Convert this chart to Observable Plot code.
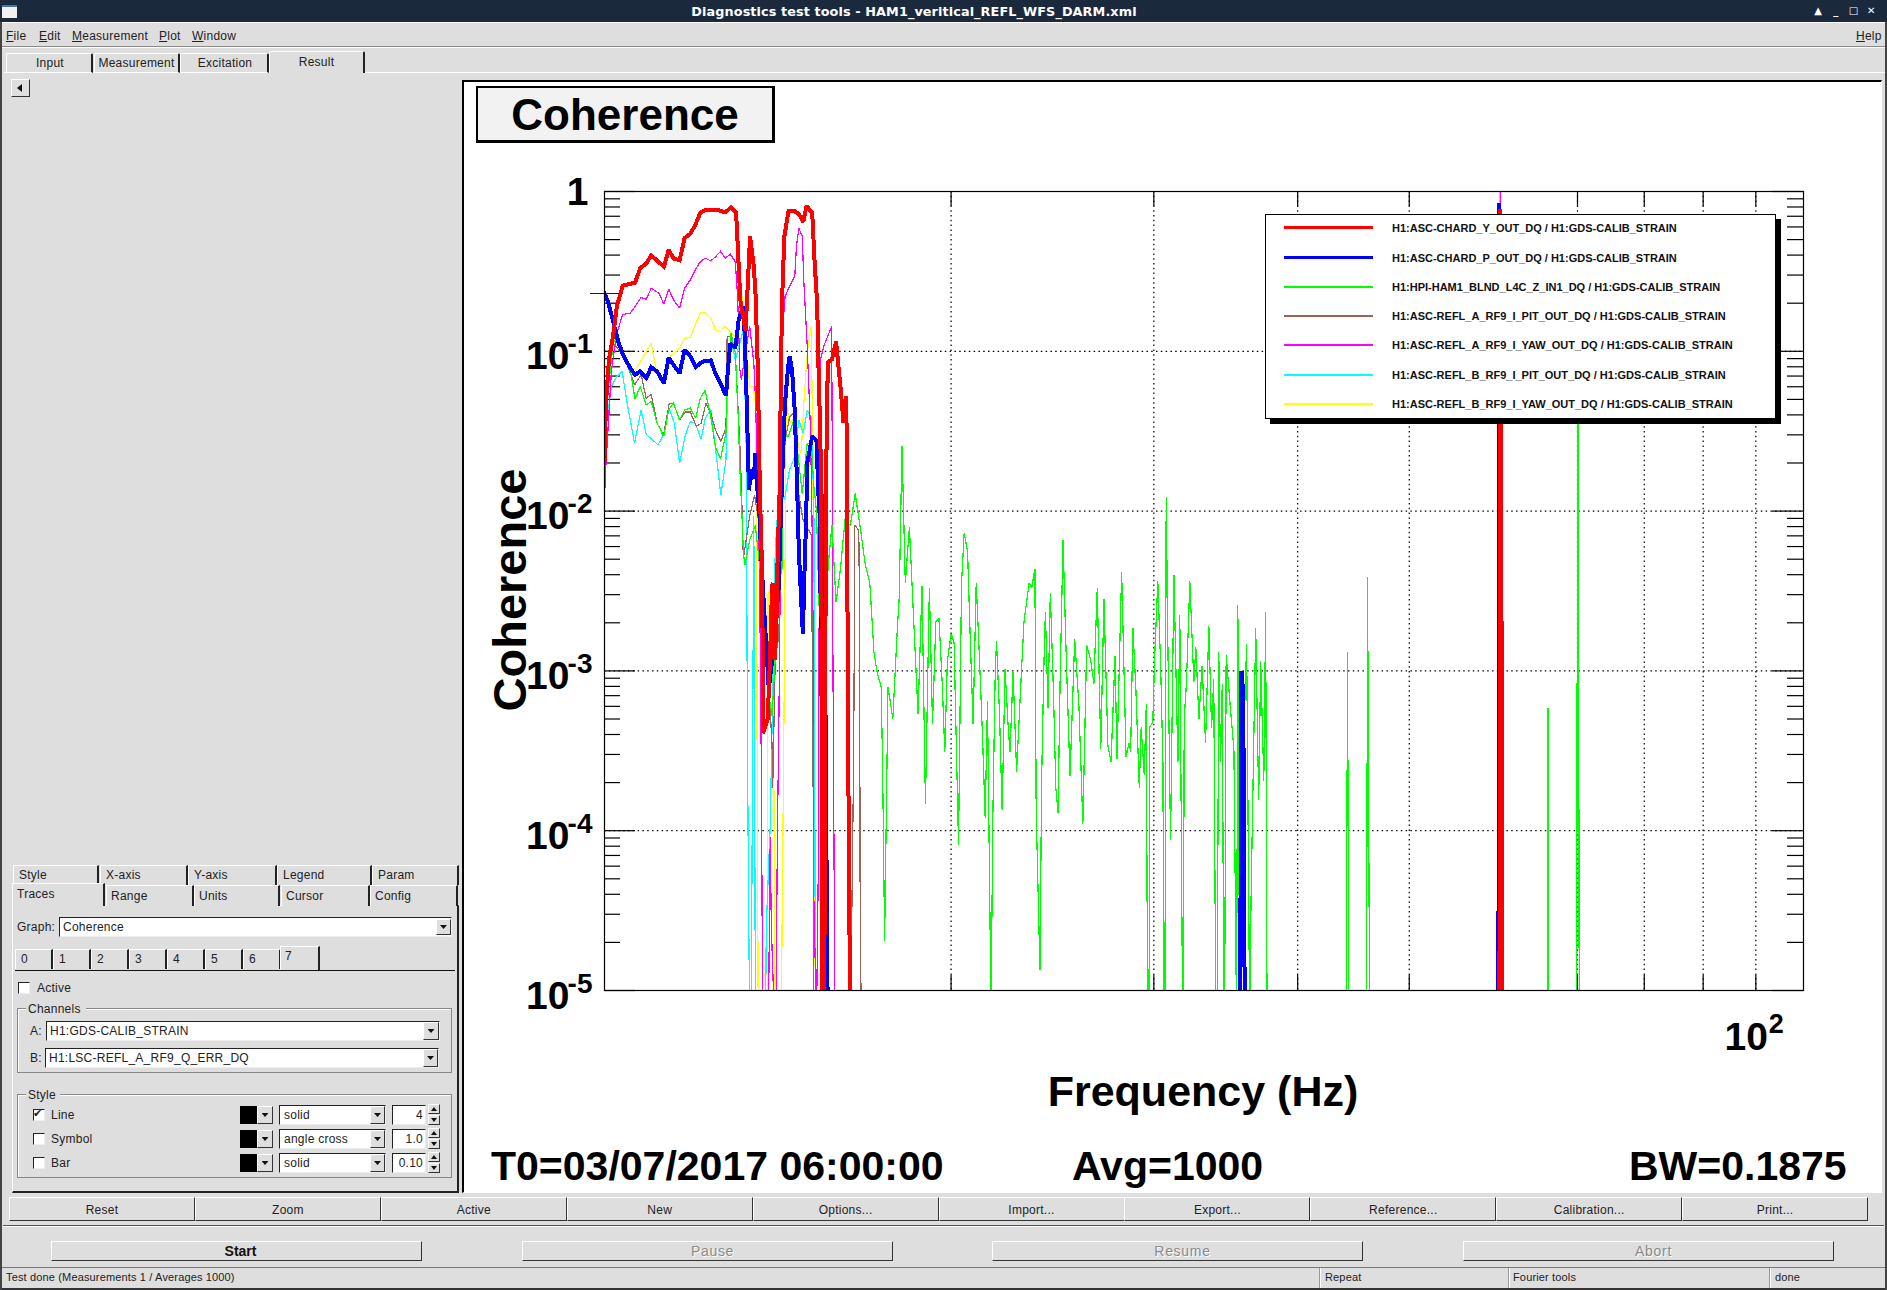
<!DOCTYPE html>
<html>
<head>
<meta charset="utf-8">
<script src="https://cdn.jsdelivr.net/npm/d3@7"></script>
<script src="https://cdn.jsdelivr.net/npm/@observablehq/plot@0.6"></script>
<style>
html,body{margin:0;padding:0;background:#dedede;width:1887px;height:1290px;overflow:hidden;font-family:"Liberation Sans",sans-serif;color:#111}
.a{position:absolute;box-sizing:border-box;white-space:pre}
svg text{font-family:"Liberation Sans",sans-serif}
</style>
</head>
<body>
<div id="gui"></div>
<script>
// All traces: [frequency in Hz, log10 of coherence]. Values below -5 run off the axis.
const redTrace=[[10,-1.70],[10.03,-1.32],[10.09,-1.05],[10.17,-.91],[10.25,-.72],[10.37,-.59],[10.63,-.57],[10.74,-.48],[10.87,-.45],[10.98,-.40],[11.26,-.47],[11.37,-.365],[11.48,-.42],[11.62,-.43],[11.74,-.29],[11.87,-.265],[11.99,-.21],[12.11,-.135],[12.23,-.115],[12.53,-.115],[12.73,-.13],[12.88,-.10],[13.01,-.13],[13.05,-.32],[13.09,-.53],[13.13,-.70],[13.26,-.87],[13.38,-.28],[13.48,-.47],[13.53,-.66],[13.59,-1.12],[13.63,-1.70],[13.66,-2],[13.71,-2.41],[13.73,-3.39],[13.86,-3.30],[13.93,-2.88],[13.98,-2.47],[14.01,-2.45],[14.05,-2.93],[14.1,-2.74],[14.14,-2.25],[14.19,-1.92],[14.21,-1.53],[14.26,-.70],[14.33,-.28],[14.45,-.12],[14.6,-.12],[14.75,-.14],[14.88,-.19],[14.98,-.09],[15.15,-.135],[15.22,-.43],[15.3,-.70],[15.35,-1.18],[15.4,-1.53],[15.43,-2.2],[15.45,-4.35],[15.47,-5.2],[15.52,-5.2],[15.55,-3.03],[15.58,-1.74],[15.63,-1.07],[15.76,-1.05],[15.89,-.94],[16.03,-1.22],[16.13,-1.45],[16.22,-1.28],[16.24,-1.89],[16.27,-3.13],[16.31,-4.38],[16.35,-5.2],[59.875,-5.5],[60,-.11],[60.125,-2.55],[60.25,-5.5]];
const blueTrace=[[10,-.636],[10.08,-.70],[10.18,-.82],[10.29,-.95],[10.39,-1.03],[10.53,-1.105],[10.63,-1.147],[10.74,-1.126],[10.87,-1.168],[10.98,-1.10],[11.11,-1.126],[11.26,-1.20],[11.37,-1.04],[11.48,-1.085],[11.62,-1.137],[11.74,-.99],[11.87,-1.03],[12,-1.10],[12.11,-1.075],[12.23,-1.06],[12.37,-1.057],[12.48,-1.137],[12.61,-1.20],[12.75,-1.278],[12.8,-1.115],[12.86,-.95],[12.99,-.98],[13.08,-.80],[13.2,-.72],[13.24,-.91],[13.29,-1.32],[13.35,-1.87],[13.41,-1.74],[13.48,-1.80],[13.52,-1.64],[13.57,-1.85],[13.63,-2.01],[13.69,-2.32],[13.77,-2.65],[13.84,-2.92],[13.89,-3.12],[13.93,-3.03],[14.01,-2.90],[14.17,-2.47],[14.23,-2.03],[14.29,-1.64],[14.35,-1.32],[14.43,-1.115],[14.48,-1.03],[14.55,-1.115],[14.63,-1.37],[14.7,-1.85],[14.75,-2.25],[14.82,-2.56],[14.87,-2.77],[14.92,-2.36],[14.97,-2.03],[15,-1.70],[15.15,-1.53],[15.28,-1.56],[15.35,-1.95],[15.38,-2.03],[15.45,-3.48],[15.5,-1.89],[15.55,-3.03],[15.6,-4.49],[15.63,-5.2],[35.625,-5.5],[35.75,-3.0],[35.875,-3.14],[36,-5.5],[59.75,-5.5],[59.875,-.07],[60,-5.5]];
const greenTrace=[[10,-1.49],[10.08,-1.22],[10.18,-.94],[10.29,-.918],[10.39,-1.03],[10.53,-1.116],[10.63,-1.30],[10.74,-1.22],[10.87,-1.335],[10.98,-1.314],[11.11,-1.45],[11.26,-1.53],[11.37,-1.366],[11.48,-1.324],[11.62,-1.43],[11.74,-1.366],[11.87,-1.355],[12,-1.418],[12.11,-1.293],[12.23,-1.245],[12.37,-1.41],[12.48,-1.595],[12.61,-1.675],[12.75,-1.51],[12.78,-1.22],[12.88,-.886],[12.99,-1.01],[13.07,-1.43],[13.11,-1.74],[13.16,-2],[13.2,-2.25],[13.24,-2.34],[13.37,-2.18],[13.52,-2.09],[13.66,-2.38],[13.8,-2.59],[13.89,-3.15],[13.98,-3.28],[14.07,-2.92],[14.17,-2.47],[14.26,-2.36],[14.31,-1.53],[14.45,-1.53],[14.6,-1.43],[14.72,-1.64],[14.85,-1.89],[15,-1.575],[15.12,-1.575],[15.2,-1.845],[15.28,-2],[15.38,-2.74],[15.45,-2.76],[15.5,-2.79],[15.65,-2.32],[15.76,-2.09],[15.89,-2.57],[16.03,-2.36],[16.18,-2.05],[16.35,-2.09],[16.51,-1.89],[16.69,-2.12],[16.85,-2.34],[17,-2.45],[17.14,-2.88],[17.25,-3.01],[17.39,-3.10],[17.44,-3.59],[17.51,-4.69],[17.63,-3.10],[17.8,-3.30],[17.96,-2.74],[18.03,-2.54],[18.13,-1.59],[18.25,-2.45],[18.4,-2.10],[18.72,-3.27],[18.87,-2.47],[19,-3.83],[19.15,-2.48],[19.27,-3.33],[19.4,-2.69],[19.52,-2.67],[19.65,-3.08],[19.75,-3.51],[19.85,-2.94],[20,-2.77],[20.12,-2.82],[20.3,-4.09],[20.42,-2.46],[20.53,-2.14],[20.67,-2.25],[20.78,-2.79],[20.9,-3.33],[21.03,-2.45],[21.16,-2.89],[21.3,-3.42],[21.41,-3.92],[21.51,-3.19],[21.63,-4.70],[21.66,-5.2],[21.74,-3.93],[21.84,-3.06],[21.9,-2.81],[22.03,-3.25],[22.15,-3.87],[22.28,-2.99],[22.42,-3.35],[22.5,-3.51],[22.64,-3.01],[22.8,-3.63],[23.02,-3.01],[23.14,-2.69],[23.38,-2.45],[23.5,-2.48],[23.65,-2.36],[23.71,-3.87],[23.89,-4.87],[23.97,-3.68],[24.08,-2.96],[24.15,-2.63],[24.28,-3.23],[24.39,-2.51],[24.54,-3.11],[24.66,-3.73],[24.77,-3.89],[24.87,-3.08],[25.02,-2.18],[25.15,-2.79],[25.37,-3.66],[25.61,-2.80],[25.83,-3.23],[26.03,-3.96],[26.23,-2.84],[26.44,-2.93],[26.61,-3.08],[26.79,-2.48],[26.98,-3.49],[27.15,-2.55],[27.37,-3.47],[27.54,-3.57],[27.76,-2.91],[27.87,-3.55],[28.13,-2.38],[28.38,-3.54],[28.55,-3.45],[28.64,-3.51],[28.77,-2.73],[28.94,-3.11],[29.14,-3.73],[29.25,-3.35],[29.43,-3.65],[29.55,-3.21],[29.63,-5.2],[29.71,-5.2],[29.76,-3.35],[29.94,-3.32],[30.04,-2.94],[30.24,-2.44],[30.41,-2.96],[30.55,-3.57],[30.61,-5.2],[30.67,-5.2],[30.75,-1.91],[30.86,-2.87],[31.02,-4.06],[31.23,-2.40],[31.48,-3.57],[31.6,-2.65],[31.78,-5.2],[31.82,-5.2],[31.88,-3.30],[32.02,-3.08],[32.24,-2.44],[32.5,-3.07],[32.63,-2.85],[32.83,-3.30],[33.04,-2.97],[33.27,-3.45],[33.49,-2.72],[33.67,-3.36],[33.82,-3.05],[33.96,-5.2],[34.05,-5.2],[34.16,-2.88],[34.28,-3.57],[34.4,-3.08],[34.51,-5.2],[34.56,-5.2],[34.67,-2.90],[34.98,-3.25],[35.21,-3.49],[35.4,-5.2],[35.49,-2.59],[35.56,-4.40],[36.12,-2.83],[36.34,-5.2],[36.44,-4.42],[36.78,-2.73],[37,-3.81],[37.15,-2.94],[37.38,-3.69],[37.52,-2.63],[37.63,-5.3],[44.06,-5.3],[44.2,-2.88],[44.3,-5.3],[45.9,-5.3],[46,-2.41],[46.2,-5.3],[65.9,-5.3],[66,-3.23],[66.1,-5.3],[69.875,-5.5],[70,-1.3],[70.125,-1.6],[70.25,-5.5]];
const brownTrace=[[10,-1.43],[10.08,-1.116],[10.18,-.95],[10.39,-1.03],[10.53,-1.137],[10.62,-1.21],[10.76,-1.147],[10.87,-1.293],[10.98,-1.27],[11.11,-1.45],[11.25,-1.53],[11.38,-1.33],[11.48,-1.324],[11.62,-1.43],[11.75,-1.38],[11.87,-1.38],[12.02,-1.47],[12.13,-1.45],[12.25,-1.324],[12.37,-1.387],[12.48,-1.49],[12.62,-1.564],[12.75,-1.48],[12.78,-.907],[12.88,-.907],[12.99,-1.01],[13.12,-1.64],[13.17,-2.01],[13.2,-2.3],[13.37,-2.03],[13.5,-1.9],[13.59,-2.03],[13.7,-2.3],[13.82,-2.81],[13.98,-3.46],[14,-3.73],[14.07,-2.92],[14.17,-2.79],[14.26,-2.03],[14.35,-1.56],[14.48,-1.41],[14.6,-1.387],[14.67,-1.56],[14.72,-1.95],[14.75,-1.9],[14.87,-2.05],[15.12,-2.15],[15.17,-3.28],[15.2,-5.2],[16.36,-5.2],[16.4,-4.51],[16.46,-3.53],[16.5,-2.09],[16.63,-2.12],[16.66,-2.83],[16.67,-4.26],[16.71,-5.2]];
const magentaTrace=[[10,-1.91],[10.03,-1.70],[10.14,-1.12],[10.25,-.886],[10.37,-.77],[10.53,-.76],[10.63,-.72],[10.76,-.663],[10.87,-.674],[10.98,-.605],[11.15,-.636],[11.26,-.705],[11.37,-.61],[11.48,-.678],[11.62,-.73],[11.74,-.605],[11.87,-.553],[11.99,-.49],[12.11,-.44],[12.23,-.417],[12.37,-.434],[12.48,-.41],[12.61,-.375],[12.73,-.417],[12.86,-.392],[12.99,-.44],[13.05,-.657],[13.11,-1.116],[13.15,-1.178],[13.24,-1.03],[13.37,-.845],[13.48,-1.074],[13.53,-1.32],[13.57,-1.74],[13.61,-2.09],[13.66,-2.92],[13.69,-3.82],[13.72,-5.2],[13.77,-5.2],[13.88,-5.2],[13.93,-4.04],[13.96,-4.6],[14.05,-5.2],[14.09,-5.2],[14.13,-4.04],[14.17,-3.37],[14.23,-2.03],[14.26,-.907],[14.35,-.657],[14.45,-.605],[14.63,-.53],[14.68,-.344],[14.75,-.23],[14.85,-.28],[14.9,-.573],[15,-.97],[15.1,-1.5],[15.15,-2.14],[15.2,-3.28],[15.2,-4.42],[15.28,-5.2],[15.33,-4.33],[15.37,-2.25],[15.4,-1.053],[15.5,-.97],[15.75,-.845],[15.77,-1.64],[15.78,-2],[15.79,-2.9],[15.83,-4.31],[15.85,-5.2],[59.875,-5.5],[60,0],[60.125,-5.5]];
const cyanTrace=[[10.05,-1.43],[10.14,-1.22],[10.25,-1.157],[10.36,-1.126],[10.46,-1.32],[10.62,-1.575],[10.76,-1.366],[10.87,-1.52],[11.13,-1.585],[11.26,-1.52],[11.38,-1.355],[11.5,-1.45],[11.62,-1.70],[11.75,-1.53],[11.87,-1.44],[11.99,-1.45],[12.13,-1.55],[12.23,-1.42],[12.37,-1.366],[12.48,-1.595],[12.62,-1.90],[12.75,-1.68],[12.78,-1.32],[12.88,-.93],[12.99,-1.053],[13.2,-.866],[13.23,-1.116],[13.29,-1.74],[13.29,-2.38],[13.31,-3.44],[13.34,-4.47],[13.37,-5.2],[13.41,-5.2],[13.46,-2.92],[13.48,-2.03],[13.52,-5],[13.59,-5.2],[13.75,-5.2],[13.8,-5.2],[13.82,-4.6],[13.93,-3.97],[14.07,-2.25],[14.12,-2.07],[14.17,-1.825],[14.33,-1.93],[14.48,-1.74],[14.63,-1.66],[14.75,-1.43],[14.88,-1.51],[15,-1.37],[15.12,-1.41],[15.2,-1.95],[15.25,-5.2]];
const yellowTrace=[[10.14,-.97],[10.25,-.928],[10.39,-1.03],[10.6,-1.137],[10.98,-.95],[11.11,-1.137],[11.26,-1.21],[11.37,-1.04],[11.62,-.98],[11.74,-.918],[11.87,-.913],[12.11,-.76],[12.23,-.757],[12.37,-.79],[12.48,-.866],[12.61,-.876],[12.73,-.845],[12.99,-.907],[13.16,-.646],[13.24,-.82],[13.37,-1.22],[13.46,-1.22],[13.52,-1.32],[13.55,-1.74],[13.57,-3.5],[13.6,-5.2],[13.8,-5.2],[13.82,-4.59],[13.85,-5],[13.87,-2.52],[14,-2.47],[14.07,-5.2],[14.24,-5.2],[14.33,-3.0],[14.38,-1.32],[14.48,-1.45],[14.6,-1.42],[14.75,-1.6],[14.82,-1.64],[14.9,-1.32],[15,-1.01],[15.12,-.845],[15.15,-1.32],[15.18,-2],[15.2,-2.92],[15.22,-4.33],[15.25,-5.2]];

const xTicks=[20,30,40,50,60,70,80,90,100];
const yDecades=[1,0.1,0.01,0.001,0.0001,0.00001];
const yMinor=[2,3,4,5,6,7,8,9];
const yExp=["-1","-2","-3","-4","-5"];
const xLabelValue=[100];
const legendLabels=["H1:ASC-CHARD_Y_OUT_DQ / H1:GDS-CALIB_STRAIN","H1:ASC-CHARD_P_OUT_DQ / H1:GDS-CALIB_STRAIN","H1:HPI-HAM1_BLND_L4C_Z_IN1_DQ / H1:GDS-CALIB_STRAIN","H1:ASC-REFL_A_RF9_I_PIT_OUT_DQ / H1:GDS-CALIB_STRAIN","H1:ASC-REFL_A_RF9_I_YAW_OUT_DQ / H1:GDS-CALIB_STRAIN","H1:ASC-REFL_B_RF9_I_PIT_OUT_DQ / H1:GDS-CALIB_STRAIN","H1:ASC-REFL_B_RF9_I_YAW_OUT_DQ / H1:GDS-CALIB_STRAIN"];
const legendColors=["#ff0000","#0000ff","#00ff00","#996655","#ff00ff","#00ffff","#ffff00"];
const legendWeights=[4,4,1.2,1.2,1.2,1.2,1.2];
const traces=[yellowTrace,cyanTrace,magentaTrace,brownTrace,greenTrace,blueTrace,redTrace];
const traceColors=["#ffff00","#00ffff","#ff00ff","#996655","#00ff00","#0000ff","#ff0000"];
const traceWeights=[1.2,1.2,1.2,1.2,1.2,4,4];

const W=1419,H=1112,mL=142,mR=78,mT=111,mB=202;
const minorVals=yDecades.slice(1).flatMap(d=>yMinor.map(m=>m*d));
const tickStyle={stroke:"#000",strokeWidth:1.2};
const plotW=W-mL-mR,plotH=H-mT-mB;
const chart=Plot.plot({
  width:W,height:H,marginLeft:mL,marginRight:mR,marginTop:mT,marginBottom:mB,
  style:{background:"transparent",overflow:"visible"},
  x:{type:"log",domain:[10,110],axis:null},
  y:{type:"log",domain:[1e-5,1],axis:null},
  marks:[
    Plot.ruleX(xTicks,{x:d=>d,stroke:"#000",strokeWidth:1.2,strokeDasharray:"1.5,3.3"}),
    Plot.ruleY(yDecades.slice(1,5),{y:d=>d,stroke:"#000",strokeWidth:1.2,strokeDasharray:"1.5,3.3"}),
    Plot.tickY(minorVals,{y:d=>d,insetRight:plotW-16,...tickStyle}),
    Plot.tickY(minorVals,{y:d=>d,insetLeft:plotW-16,...tickStyle}),
    Plot.tickY(yDecades,{y:d=>d,insetRight:plotW-31,...tickStyle}),
    Plot.tickY(yDecades,{y:d=>d,insetLeft:plotW-31,...tickStyle}),
    Plot.tickX(xTicks,{x:d=>d,insetBottom:plotH-15,...tickStyle}),
    Plot.tickX(xTicks,{x:d=>d,insetTop:plotH-15,...tickStyle}),
    ...traces.map((t,i)=>Plot.line(t,{x:d=>d[0],y:d=>10**d[1],stroke:traceColors[i],strokeWidth:traceWeights[i],clip:true,curve:"linear",strokeLinejoin:"miter",strokeMiterlimit:2})),
    Plot.dot([blueTrace[0]],{x:d=>d[0],y:d=>10**d[1],symbol:"plus",r:9.5,stroke:"#0000ff",strokeWidth:1.2}),
    Plot.frame({stroke:"#000",strokeWidth:1.2}),
    Plot.text([1],{x:()=>10,y:d=>d,text:()=>"1",dx:-16,dy:13,textAnchor:"end",lineAnchor:"bottom",fontSize:39,fontWeight:"bold",fill:"#000"}),
    Plot.text(yDecades.slice(1),{x:()=>10,y:d=>d,text:()=>"10",dx:-35,dy:18,textAnchor:"end",lineAnchor:"bottom",fontSize:39,fontWeight:"bold",fill:"#000"}),
    Plot.text(yDecades.slice(1),{x:()=>10,y:d=>d,text:(d,i)=>yExp[i],dx:-12,dy:2,textAnchor:"end",lineAnchor:"bottom",fontSize:28,fontWeight:"bold",fill:"#000"}),
    Plot.text(xLabelValue,{x:d=>d,y:()=>1e-5,text:()=>"10",dy:59,dx:12,textAnchor:"end",lineAnchor:"bottom",fontSize:39,fontWeight:"bold",fill:"#000"}),
    Plot.text(xLabelValue,{x:d=>d,y:()=>1e-5,text:()=>"2",dy:42,dx:13,textAnchor:"start",lineAnchor:"bottom",fontSize:27,fontWeight:"bold",fill:"#000"})
  ]
});
chart.querySelectorAll("path").forEach(p=>p.setAttribute("shape-rendering","crispEdges"));

// ---- window furniture ----
const gui=document.getElementById("gui");
function el(x,y,w,h,css,text){const d=document.createElement("div");d.className="a";
  d.style.cssText=`left:${x}px;top:${y}px;width:${w}px;height:${h}px;`+(css||"");
  if(text!=null)d.textContent=text;(gui).appendChild(d);return d;}
const raised="background:#dedede;border:1px solid;border-color:#fff #333 #333 #fff;";
const sunken="background:#fff;border:1px solid;border-color:#222 #eee #eee #222;";
function label(x,y,text,css){return el(x,y-9,10,18,`line-height:18px;font-size:12px;letter-spacing:.25px;color:#222;overflow:visible;${css||""}`,text);}
function center(x,y,w,h,text,css){return el(x,y,w,h,`text-align:center;line-height:${h}px;font-size:12px;letter-spacing:.25px;color:#222;${css||""}`,text);}
function arrowBtn(x,y,w,h){const b=el(x,y,w,h,raised+"background:#dedede;");
  const t=el(x+w/2-3.5,y+h/2-2,7,4,"background:#111;clip-path:polygon(0 0,100% 0,50% 100%);");return b;}
function tab(x,y,w,h,text,active,pad){
  el(x,y,w,h,`background:#dedede;border-top:1px solid #fff;border-left:1px solid #fff;border-right:2px solid #222;${active?"":"border-bottom:1px solid #fff;"}border-radius:2px 2px 0 0;text-align:center;line-height:${h-1}px;padding-left:${pad||0}px;font-size:12px;letter-spacing:.25px;color:#222;`,text);
}
// title bar
el(0,0,1887,22,"background:#1a2a3c;");
el(2,5,15,13,"background:#f1f1f1;border-top:2px solid #4c72b0;");
el(0,0,1828,22,"text-align:center;font:bold 12.8px/23px 'DejaVu Sans';letter-spacing:.1px;color:#fff;","Diagnostics test tools - HAM1_veritical_REFL_WFS_DARM.xml");
["▲","_","□","✕"].forEach((s,i)=>el(1811+i*17.7,1,14,20,"color:#fff;font:bold 10px/20px 'DejaVu Sans';text-align:center;",s));
el(0,22,1887,1,"background:#fff;");
// menu
[["File",6],["Edit",39],["Measurement",72],["Plot",159],["Window",192]].forEach(([t,x])=>{
  const d=label(x,36,"");d.innerHTML=`<u>${t[0]}</u>${t.slice(1)}`;});
label(1856,36,"Help").innerHTML="<u>H</u>elp";
el(2,46,1883,1,"background:#8a8a8a;");el(2,47,1883,1,"background:#fff;");
// top tabs
el(4,72,1881,1,"background:#fff;");
tab(6,53,87,20,"Input",false,2);tab(94,53,86,20,"Measurement");tab(180,53,89,20,"Excitation",false,2);tab(269,51,96,22,"Result",true);
el(11,79,19,18,raised);el(17,84,5,8,"background:#111;clip-path:polygon(100% 0,100% 100%,0 50%);");
// side panel lower tabs
[["Style",13,86],["X-axis",100,88],["Y-axis",188,89],["Legend",277,95],["Param",372,87]].forEach(([t,x,w])=>{
  el(x,865,w,20,"background:#dedede;border-top:1px solid #fff;border-left:1px solid #fff;border-right:2px solid #222;");
  label(x+6,875,t);});
el(12,905,447,288,"border:1px solid;border-color:#fff #222 #222 #fff;border-width:1px 2px 2px 1px;");
[["Range",106,88],["Units",194,86],["Cursor",281,89],["Config",370,88]].forEach(([t,x,w])=>{
  el(x,885,w,21,"background:#dedede;border-top:1px solid #fff;border-left:1px solid #fff;border-right:2px solid #222;");
  label(x+5,896,t);});
el(12,883,93,23,"background:#dedede;border-top:1px solid #fff;border-left:1px solid #fff;border-right:2px solid #222;");
label(17,894,"Traces");
label(17,927,"Graph:");
el(59,917,393,20,sunken);label(63,927,"Coherence");arrowBtn(436,919,15,16);
// numbered tabs
["0","1","2","3","4","5","6"].forEach((t,i)=>{
  el(15+i*38,949,38,20,"background:#dedede;border-top:1px solid #fff;border-left:1px solid #fff;border-right:2px solid #222;");
  label(21+i*38,959,t);});
el(280,946,40,24,"background:#dedede;border-top:1px solid #fff;border-left:1px solid #fff;border-right:2px solid #222;");
label(285,956,"7");
el(15,970,440,1,"background:#111;");
el(18,982,12,12,sunken);label(37,988,"Active");
// channels group
el(17,1008,435,65,"border:1px solid #888;box-shadow:inset 1px 1px 0 #fff;");
el(26,1000,60,18,"background:#dedede;");label(28,1009,"Channels");
label(30,1031,"A:");el(46,1021,394,20,sunken);label(50,1031,"H1:GDS-CALIB_STRAIN");arrowBtn(423,1022,16,18);
label(30,1058,"B:");el(45,1048,394,20,sunken);label(49,1058,"H1:LSC-REFL_A_RF9_Q_ERR_DQ");arrowBtn(423,1049,15,18);
// style group
el(17,1094,435,84,"border:1px solid #888;box-shadow:inset 1px 1px 0 #fff;");
el(26,1086,34,18,"background:#dedede;");label(28,1095,"Style");
[[1115,"Line","solid","4",true],[1139,"Symbol","angle cross","1.0",false],[1163,"Bar","solid","0.10",false]].forEach(([y,a,b,c,chk])=>{
  el(33,y-6,12,12,sunken);
  if(chk)label(33,y-1,"✔","font:bold 11px/18px 'DejaVu Sans';letter-spacing:0;");
  label(51,y,a);
  el(240,y-9,17,18,"background:#000;");arrowBtn(257,y-9,16,18);
  el(279,y-10,107,20,sunken);label(284,y,b);arrowBtn(370,y-9,15,18);
  el(392,y-10,34,20,sunken);el(392,y-10,31,20,"text-align:right;font-size:12px;line-height:20px;letter-spacing:.25px;color:#222;",c);
  el(428,y-11,12,10,raised);el(431,y-8,6,4,"background:#111;clip-path:polygon(50% 0,100% 100%,0 100%);");
  el(428,y,12,10,raised);el(431,y+3,6,4,"background:#111;clip-path:polygon(0 0,100% 0,50% 100%);");
});
// pane + chart
el(462,80,1420,1113,"background:#fff;border-top:2px solid #000;border-left:2px solid #000;border-right:1px solid #fff;border-bottom:1px solid #fff;");
const holder=el(462,80,W,H,"");holder.appendChild(chart);
// title box
el(476,86,299,57,"background:#f2f2f2;border:2px solid #000;border-width:2px 3px 3px 2px;text-align:center;font:bold 44px/54px 'Liberation Sans';color:#000;","Coherence");
// axis titles and run labels
el(1203-250,1064,500,54,"text-align:center;font:bold 43px/54px 'Liberation Sans';color:#000;","Frequency (Hz)");
el(510-150,590-27,300,54,"text-align:center;font:bold 47px/54px 'Liberation Sans';color:#000;transform:rotate(-90deg);","Coherence");
el(491,1139,500,54,"font:bold 41px/54px 'Liberation Sans';color:#000;","T0=03/07/2017 06:00:00");
el(1072,1139,300,54,"font:bold 41px/54px 'Liberation Sans';color:#000;","Avg=1000");
el(1629,1139,240,54,"font:bold 41px/54px 'Liberation Sans';color:#000;","BW=0.1875");
// legend
el(1270,219,511,205,"background:#000;");
el(1265,214,511,205,"background:#fff;border:1.5px solid #000;");
const rows=[228,258,287,316,345,375,404];
legendLabels.forEach((t,i)=>{
  el(1284,rows[i]-legendWeights[i]/2,89,legendWeights[i]<2?1.5:3,`background:${legendColors[i]};`);
  el(1392,rows[i]-8,370,16,"font:bold 11px/16px 'Liberation Sans';color:#111;",t);
});
// action buttons
["Reset","Zoom","Active","New","Options...","Import...","Export...","Reference...","Calibration...","Print..."].forEach((t,i)=>{
  center(9+i*185.9,1197,186,24,t,raised);});
el(3,1225,1881,1,"background:#555;");el(3,1226,1881,1,"background:#fff;");
// run buttons
const runBtn=(x,w,t,css)=>center(x,1241,w,20,t,"background:#dedede;border:1px solid;border-color:#fff #333 #333 #fff;"+css);
runBtn(51,371,"Start","font:bold 14px/18px 'Liberation Sans';color:#111;letter-spacing:0;padding-left:8px;");
[[522,"Pause"],[992,"Resume"],[1463,"Abort"]].forEach(([x,t])=>runBtn(x,371,t,"font:14px/18px 'Liberation Sans';color:#8a8a8a;text-shadow:1px 1px 0 #fff;letter-spacing:.7px;padding-left:10px;"));
// status bar
el(0,1267,1887,1,"background:#777;");
[["Test done (Measurements 1 / Averages 1000)",6],["Repeat",1325],["Fourier tools",1513],["done",1775]].forEach(([t,x])=>label(x,1277,t,"font-size:11px;letter-spacing:.15px;"));
[1319,1508,1769].forEach(x=>el(x,1268,1,20,"background:#999;box-shadow:1px 0 0 #fff;"));
el(0,1288,1887,2,"background:#333;");
el(0,22,2,1268,"background:#444;");el(1885,22,2,1268,"background:#444;");
</script>
</body>
</html>
